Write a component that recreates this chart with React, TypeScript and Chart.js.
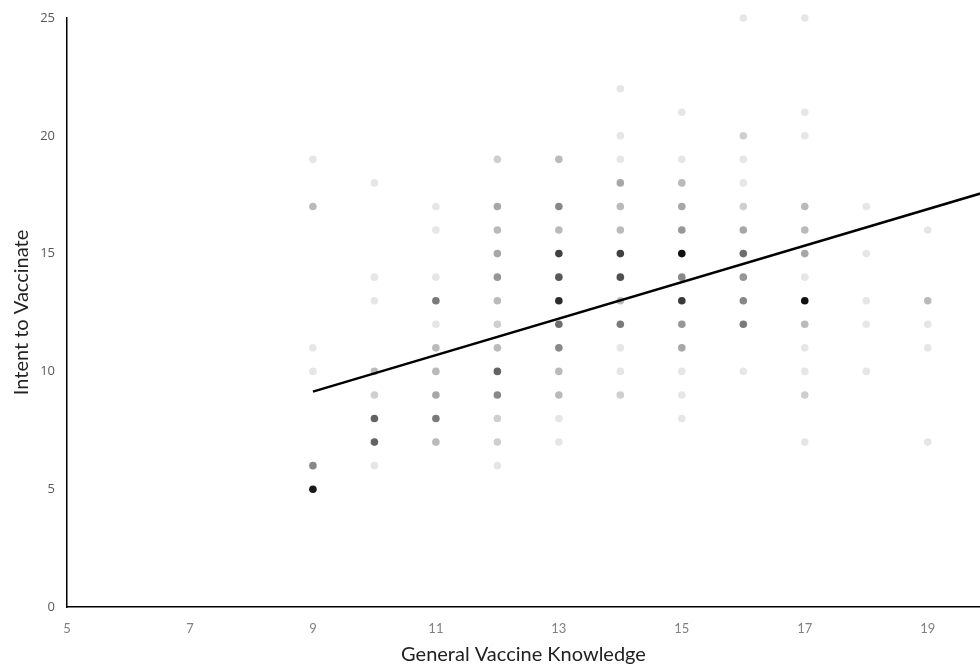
import { useEffect, useRef } from "react";
import { Chart, registerables } from "chart.js";

Chart.register(...registerables);

// Tick labels
const xTicks = [5, 7, 9, 11, 13, 15, 17, 19];
const yTicks = [0, 5, 10, 15, 20, 25];

// Knowledge levels (x) and, per level, the intent scores (y) observed
const knowledgeLevels = [9, 10, 11, 12, 13, 14, 15, 16, 17, 18, 19];
const intentByLevel = [
  [19, 17, 11, 10, 6, 5],
  [18, 14, 13, 10, 9, 8, 7, 6],
  [17, 16, 14, 13, 12, 11, 10, 9, 8, 7],
  [19, 17, 16, 15, 14, 13, 12, 11, 10, 9, 8, 7, 6],
  [19, 17, 16, 15, 14, 13, 12, 11, 10, 9, 8, 7],
  [22, 20, 19, 18, 17, 16, 15, 14, 13, 12, 11, 10, 9],
  [21, 19, 18, 17, 16, 15, 14, 13, 12, 11, 10, 9, 8],
  [25, 20, 19, 18, 17, 16, 15, 14, 13, 12, 10],
  [25, 21, 20, 17, 16, 15, 14, 13, 12, 11, 10, 9, 7],
  [17, 15, 13, 12, 10],
  [16, 13, 12, 11, 7],
];
// Overlap counts (how many respondents share each point) -> darkness
const countByLevel = [
  [1, 3, 1, 1, 6, 22],
  [1, 1, 1, 3, 2, 9, 9, 1],
  [1, 1, 1, 7, 1, 3, 3, 4, 7, 3],
  [2, 4, 3, 4, 5, 3, 2, 3, 9, 6, 2, 2, 1],
  [3, 6, 3, 13, 10, 17, 8, 6, 3, 3, 1, 1],
  [1, 1, 1, 4, 3, 3, 13, 11, 3, 7, 1, 1, 2],
  [1, 1, 3, 4, 5, 26, 6, 14, 5, 4, 1, 1, 1],
  [1, 2, 1, 1, 2, 4, 8, 5, 6, 7, 1],
  [1, 1, 1, 3, 3, 4, 1, 26, 3, 1, 1, 2, 1],
  [1, 1, 1, 1, 1],
  [1, 3, 1, 1, 1],
];

// Linear trend line endpoints
const trendX = [9, 20];
const trendY = [9.14, 17.66];

function shade(n: number): string {
  const g = Math.round(255 * Math.pow(0.9, n));
  return `rgb(${g},${g},${g})`;
}

export default function App() {
  const ref = useRef<HTMLCanvasElement>(null);

  useEffect(() => {
    document.body.style.margin = "0";
    document.documentElement.style.overflow = "hidden";
    const pts: { x: number; y: number }[] = [];
    const colors: string[] = [];
    knowledgeLevels.forEach((k, i) => {
      intentByLevel[i].forEach((v, j) => {
        pts.push({ x: k, y: v });
        colors.push(shade(countByLevel[i][j]));
      });
    });

    const chart = new Chart(ref.current as HTMLCanvasElement, {
      type: "scatter",
      data: {
        datasets: [
          {
            type: "line",
            data: trendX.map((x, i) => ({ x, y: trendY[i] })),
            borderColor: "#000000",
            borderWidth: 2.5,
            pointRadius: 0,
            fill: false,
            order: 0,
          } as any,
          {
            data: pts,
            pointBackgroundColor: colors,
            pointBorderWidth: 0,
            pointRadius: 3.8,
            clip: false,
            order: 1,
          } as any,
        ],
      },
      options: {
        animation: false,
        responsive: false,
        plugins: { legend: { display: false }, tooltip: { enabled: false } },
        layout: {
          autoPadding: false,
          padding: { top: 18, right: 0, left: 0, bottom: 0 },
        },
        scales: {
          x: {
            type: "linear",
            min: 5,
            max: 19.85,
            grid: { display: false, drawTicks: false },
            border: { display: true, color: "#000000", width: 1.5 },
            afterBuildTicks: (s: any) => {
              s.ticks = xTicks.map((v) => ({ value: v }));
            },
            afterFit: (s: any) => {
              s.height = 59;
              s.paddingLeft = 0;
              s.paddingRight = 0;
            },
            ticks: {
              padding: 14,
              color: "#808080",
              font: { family: "Lato", size: 13 },
              maxRotation: 0,
            },
            title: {
              display: true,
              text: "General Vaccine Knowledge",
              color: "#222222",
              font: { family: "Lato", size: 20 },
              padding: { top: 0, bottom: -1 },
            },
          },
          y: {
            type: "linear",
            min: 0,
            max: 25,
            grid: { display: false, drawTicks: false },
            border: { display: true, color: "#000000", width: 1.5 },
            afterBuildTicks: (s: any) => {
              s.ticks = yTicks.map((v) => ({ value: v }));
            },
            afterFit: (s: any) => {
              s.width = 67;
              s.paddingTop = 0;
              s.paddingBottom = 0;
            },
            ticks: {
              padding: 12,
              color: "#595959",
              font: { family: "Open Sans", size: 13 },
            },
            title: {
              display: true,
              text: "Intent to Vaccinate",
              color: "#222222",
              font: { family: "Lato", size: 20 },
              padding: { top: 10, bottom: 0 },
            },
          },
        },
      },
    });
    return () => chart.destroy();
  }, []);

  return (
    <canvas
      ref={ref}
      width={980}
      height={666}
      style={{ display: "block" }}
    />
  );
}
